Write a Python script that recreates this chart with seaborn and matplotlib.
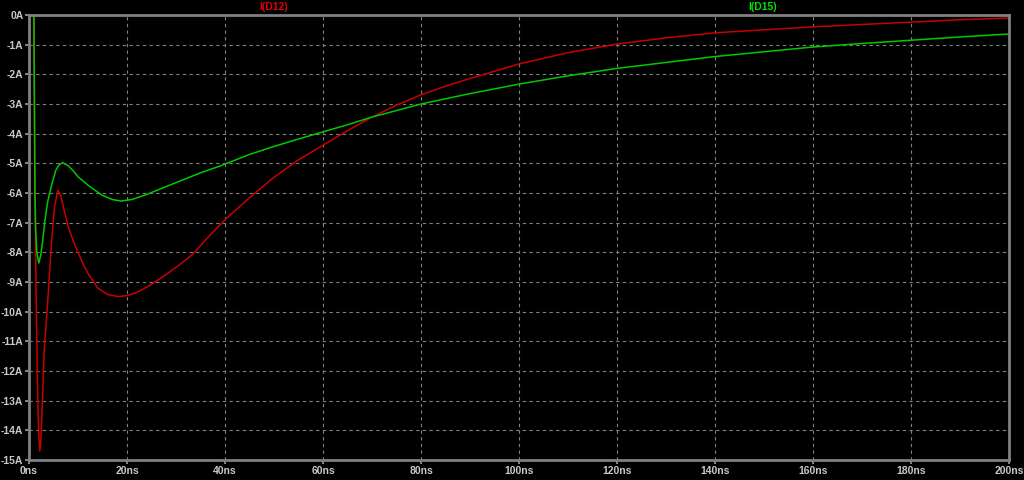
import seaborn as sns
import matplotlib
matplotlib.use("Agg")
import matplotlib.pyplot as plt
import pandas as pd

# tempo em ns e correntes em A
t_d12 = [0, 1.0, 1.1, 1.2, 1.35, 1.5, 1.8, 2.0, 2.2, 2.4, 2.6, 3.1, 3.8, 4.55, 5.2, 5.9,
         6.5, 7.2, 8.0, 9.0, 10.0, 11.0, 12.0, 14.0, 16.0, 18.2, 20.0, 22.0, 24.3, 27.0,
         30.4, 33.5, 36.5, 40.0, 45.0, 50.0, 55.0, 60.0, 65.0, 70.0, 75.0, 80.0, 85.0,
         90.0, 100.0, 110.0, 120.0, 130.0, 140.0, 150.0, 160.0, 170.0, 180.0, 190.0, 200.0]
i_d12 = [0, 0, -2.6, -5.0, -8.0, -10.0, -13.0, -14.2, -14.7, -14.4, -13.6, -11.3, -9.7,
         -7.8, -6.46, -5.9, -6.1, -6.6, -7.13, -7.6, -8.0, -8.38, -8.7, -9.2, -9.42, -9.49,
         -9.46, -9.35, -9.15, -8.86, -8.46, -8.05, -7.5, -6.9, -6.16, -5.47, -4.88,
         -4.39, -3.9, -3.44, -3.04, -2.69, -2.4, -2.14, -1.65, -1.27, -0.98, -0.77, -0.6,
         -0.5, -0.4, -0.32, -0.24, -0.16, -0.1]

t_d15 = [0, 1.0, 1.1, 1.2, 1.35, 1.6, 2.0, 2.4, 2.8, 3.2, 3.8, 4.5, 5.5, 6.2, 6.9, 8.0,
         9.0, 10.0, 12.0, 13.4, 15.0, 17.0, 18.8, 21.0, 24.0, 27.0, 30.0, 35.0, 39.0,
         45.0, 50.0, 55.0, 60.0, 65.0, 70.0, 75.0, 80.0, 90.0, 100.0, 110.0, 120.0, 130.0,
         140.0, 150.0, 160.0, 170.0, 180.0, 190.0, 200.0]
i_d15 = [0, 0, -3.0, -6.0, -7.2, -8.0, -8.36, -8.1, -7.6, -7.0, -6.3, -5.8, -5.22, -5.04,
         -4.98, -5.08, -5.25, -5.45, -5.73, -5.9, -6.08, -6.22, -6.27, -6.22, -6.05, -5.85,
         -5.65, -5.32, -5.09, -4.7, -4.43, -4.18, -3.94, -3.7, -3.44, -3.22, -3.0, -2.65,
         -2.33, -2.05, -1.8, -1.6, -1.4, -1.24, -1.08, -0.96, -0.85, -0.74, -0.64]

xticks = list(range(0, 201, 20))
xtick_labels = [f"{x}ns" for x in xticks]
yticks = list(range(0, -16, -1))
ytick_labels = [f"{y}A" for y in yticks]

df = pd.concat([
    pd.DataFrame({"t": t_d12, "i": i_d12, "sinal": "I(D12)"}),
    pd.DataFrame({"t": t_d15, "i": i_d15, "sinal": "I(D15)"}),
])

cinza = "#808080"
sns.set_style("dark", {"axes.facecolor": "black", "figure.facecolor": "black"})
plt.rcParams["font.family"] = ["Liberation Sans", "DejaVu Sans"]

fig = plt.figure(figsize=(10.24, 4.8), dpi=100)
ax = fig.add_axes([29 / 1024, 20 / 480, 980 / 1024, 445 / 480])

sns.lineplot(data=df, x="t", y="i", hue="sinal", sort=False,
             palette={"I(D12)": "#c80000", "I(D15)": "#00c800"},
             linewidth=1.1, legend=False, ax=ax)

ax.set_xlim(0, 200)
ax.set_ylim(-15, 0)
ax.set_xticks(xticks)
ax.set_xticklabels(xtick_labels)
ax.set_yticks(yticks)
ax.set_yticklabels(ytick_labels)
ax.set_xlabel("")
ax.set_ylabel("")
ax.grid(True, color=cinza, linestyle=(0, (3, 3)), linewidth=0.8)
for s in ax.spines.values():
    s.set_color(cinza)
    s.set_linewidth(2)
    s.set_visible(True)
ax.tick_params(colors=cinza, labelcolor="#c8c8c8", length=3, width=1.5,
               labelsize=7.5, pad=1, bottom=True, left=True)
for lbl in ax.get_xticklabels() + ax.get_yticklabels():
    lbl.set_fontweight("bold")

fig.text(274 / 1024, 1 - 7 / 480, "I(D12)", color="#e00000", fontsize=7.5,
         fontweight="bold", ha="center", va="center")
fig.text(763 / 1024, 1 - 7 / 480, "I(D15)", color="#00e000", fontsize=7.5,
         fontweight="bold", ha="center", va="center")

fig.savefig("out.png", dpi=100, facecolor="black")
